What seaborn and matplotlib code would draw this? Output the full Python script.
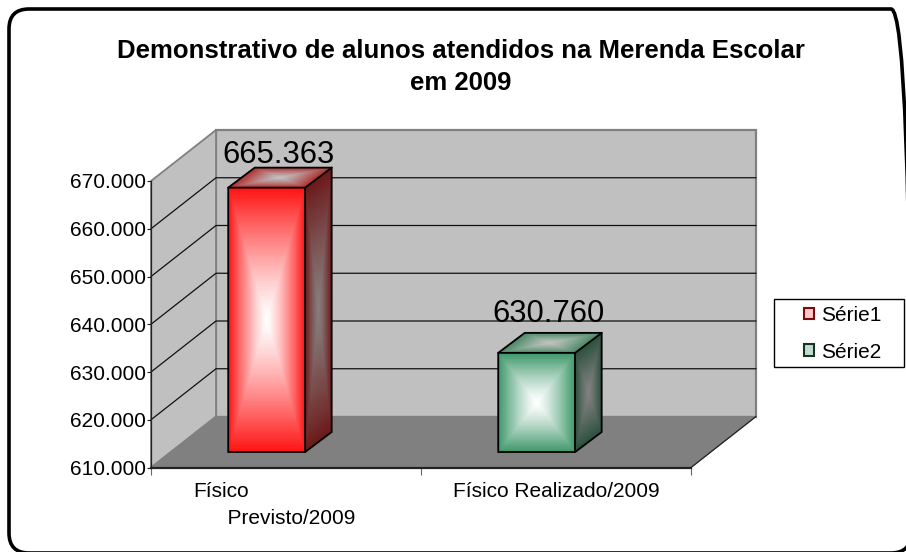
import numpy as np
import pandas as pd
import matplotlib
matplotlib.use("Agg")
import matplotlib.pyplot as plt
import seaborn as sns
from matplotlib.patches import FancyBboxPatch, Polygon, Rectangle
from matplotlib.transforms import IdentityTransform, ScaledTranslation

# data
categories = ["Físico Previsto/2009", "Físico Realizado/2009"]
tick_labels = ["Físico\n      Previsto/2009", "Físico Realizado/2009"]
series = ["Série1", "Série2"]
values = [665363, 630760]
y_ticks = [610000, 620000, 630000, 640000, 650000, 660000, 670000]

W, H = 906, 552
df = pd.DataFrame({"cat": categories, "val": values, "serie": series})

sns.set_theme(style="white")
plt.rcParams["font.family"] = ["Liberation Sans", "DejaVu Sans"]
FS = 15


def fmt(v):
    return f"{v:,}".replace(",", ".")


def shade(ax, p0, p1, p3, edge, mid, n=120, zorder=3, power=1.25):
    # fill a parallelogram with a box gradient, edge colour -> mid colour at the centre
    u = np.linspace(0, 1, n + 1)
    uu, vv = np.meshgrid(u, u)
    p0, p1, p3 = np.array(p0), np.array(p1), np.array(p3)
    X = p0[0] + uu * (p1[0] - p0[0]) + vv * (p3[0] - p0[0])
    Y = p0[1] + uu * (p1[1] - p0[1]) + vv * (p3[1] - p0[1])
    c = (u[:-1] + u[1:]) / 2
    cu, cv = np.meshgrid(c, c)
    d = np.maximum(np.abs(2 * cu - 1), np.abs(2 * cv - 1))[..., None] ** power
    rgb = np.array(mid) + (np.array(edge) - np.array(mid)) * d
    ax.pcolormesh(X, Y, rgb / 255, transform=IdentityTransform(), shading="flat",
                  zorder=zorder, clip_on=False, antialiased=False)


fig = plt.figure(figsize=(W / 100, H / 100), dpi=100, facecolor="white")

# front plane of the chart: 151..691 px across, 181..467.5 px down
x0, x1, ytop, ybot = 151, 691, 181, 467.5
ax = fig.add_axes([x0 / W, (H - ybot) / H, (x1 - x0) / W, (ybot - ytop) / H])
ax.set_xlim(-0.5, 1.5)
ax.set_ylim(y_ticks[0], y_ticks[-1])
ax.patch.set_visible(False)
for s in ["top", "right"]:
    ax.spines[s].set_visible(False)
ax.spines["left"].set_linewidth(0.9)
ax.spines["left"].set_color("#222222")
ax.spines["bottom"].set_linewidth(1.6)
ax.spines["bottom"].set_color("#222222")
ax.set_yticks(y_ticks)
ax.set_yticklabels([fmt(v) for v in y_ticks], fontsize=FS, color="black")
ax.set_xticks([0, 1])
ax.set_xticklabels(tick_labels, fontsize=FS, color="black", linespacing=1.5)
ax.set_xticks([-0.5, 0.5, 1.5], minor=True)
ax.tick_params(axis="x", which="major", length=0, pad=10.5)
ax.tick_params(axis="x", which="minor", length=5, width=0.8, color="#666666", bottom=True)
ax.tick_params(axis="y", length=3, width=0.8, color="#222222", left=True, pad=0.6)
lab0 = ax.get_xticklabels()[0]
lab0.set_ha("center")
lab0.set_multialignment("left")
lab0.set_transform(lab0.get_transform() + ScaledTranslation(-12 / 100, 0, fig.dpi_scale_trans))

# walls and floor of the fake 3D box
dx, dy = 65, 51
pb = ax.transData.transform([(-0.5, y_ticks[0]), (1.5, y_ticks[0]), (-0.5, y_ticks[-1])])
(fx, fy), (rx, _), (_, ty) = pb
kw = dict(transform=IdentityTransform(), clip_on=False)
ax.add_patch(Polygon([(fx + dx, fy + dy), (rx + dx, fy + dy), (rx + dx, ty + dy), (fx + dx, ty + dy)],
                     fc="#c0c0c0", ec="#808080", lw=1.6, zorder=0, **kw))
ax.add_patch(Polygon([(fx, fy), (fx + dx, fy + dy), (fx + dx, ty + dy), (fx, ty)],
                     fc="#c0c0c0", ec="#808080", lw=1.3, zorder=0.1, **kw))
ax.add_patch(Polygon([(fx, fy), (fx + dx, fy + dy), (rx + dx, fy + dy), (rx, fy)],
                     fc="#808080", ec="#808080", lw=0.8, zorder=0.2, **kw))
ax.plot([rx, rx + dx], [fy, fy + dy], color="#222222", lw=0.9, zorder=0.3, **kw)
for v in y_ticks[1:-1]:
    py = ax.transData.transform((0, v))[1]
    ax.plot([fx, fx + dx, rx + dx], [py, py + dy, py + dy], color="#111111", lw=0.9, zorder=0.3, **kw)

# bars sit part way into the box, so their axes is shifted from the front plane
bx, by = -19.3, 15.5
bar_ax = fig.add_axes([(x0 + bx) / W, (H - ybot + by) / H, (x1 - x0) / W, (ybot - ytop) / H])
bar_ax.set_zorder(-1)
sns.barplot(data=df, x="cat", y="val", hue="serie", dodge=False, width=0.285,
            palette=["#ff1414", "#3c9669"], ax=bar_ax)
bar_ax.set_xlim(-0.5, 1.5)
bar_ax.set_ylim(y_ticks[0], y_ticks[-1])
bar_ax.axis("off")

looks = [
    dict(front=((255, 18, 18), (255, 255, 255)), side=((108, 24, 24), (135, 125, 125)),
         top=((175, 45, 45), (192, 192, 192)), hand=("#ffc8c8", "#7a0c0c")),
    dict(front=((60, 150, 105), (255, 255, 255)), side=((42, 78, 60), (128, 128, 128)),
         top=((70, 135, 100), (190, 195, 190)), hand=("#c4dccf", "#123524")),
]
bw, bh = 26.5, 20
bars = [p for p in bar_ax.patches if p.get_width() > 0]
for bar, look, val in zip(bars, looks, values):
    left = bar.get_x()
    right = left + bar.get_width()
    (lx, by0) = bar_ax.transData.transform((left, y_ticks[0]))
    (rx2, by1) = bar_ax.transData.transform((right, val))
    shade(ax, (lx, by0), (rx2, by0), (lx, by1), *look["front"], zorder=3)
    shade(ax, (rx2, by0), (rx2 + bw, by0 + bh), (rx2, by1), *look["side"], zorder=3)
    shade(ax, (lx, by1), (rx2, by1), (lx + bw, by1 + bh), *look["top"], zorder=3)
    out = [(lx, by0), (rx2, by0), (rx2 + bw, by0 + bh), (rx2 + bw, by1 + bh), (lx + bw, by1 + bh),
           (lx, by1)]
    ax.add_patch(Polygon(out, fc="none", ec="black", lw=1.3, zorder=4, **kw))
    ax.plot([lx, rx2, rx2 + bw], [by1, by1, by1 + bh], color="black", lw=1.3, zorder=4, **kw)
    ax.plot([rx2, rx2], [by0, by1], color="black", lw=1.3, zorder=4, **kw)
ax.set_xlim(-0.5, 1.5)
ax.set_ylim(y_ticks[0], y_ticks[-1])

# value labels
label_off = [(-8, 40), (-8, 46.7)]
for i, val in enumerate(values):
    ax.annotate(fmt(val), xy=(i, val), xytext=label_off[i], textcoords="offset pixels",
                ha="center", va="baseline", fontsize=22.3, color="black", zorder=5,
                annotation_clip=False)

# legend: frame drawn apart because the entries sit off-centre in it
fig.add_artist(Rectangle((774, H - 367), 130, 68, fc="white", ec="black", lw=1.0,
                         transform=IdentityTransform(), zorder=-2))
handles, labels = bar_ax.get_legend_handles_labels()
for h, look in zip(handles, looks):
    h.set_facecolor(look["hand"][0])
    h.set_edgecolor(look["hand"][1])
    h.set_linewidth(1.5)
bar_ax.get_legend().remove()
leg = ax.legend(handles, labels, loc="upper left", bbox_to_anchor=(804 / W, (H - 306) / H),
                bbox_transform=fig.transFigure, frameon=False, fontsize=FS,
                handlelength=0.48, handleheight=0.48, handletextpad=0.33, labelspacing=0.85,
                borderaxespad=0, borderpad=0)
leg.set_zorder(10)
for t in leg.get_texts():
    t.set_color("black")

# title and outer rounded border
fig.text(461 / W, (H - 58.5) / H, "Demonstrativo de alunos atendidos na Merenda Escolar",
         ha="center", va="baseline", fontsize=18.5, fontweight="bold", color="black")
fig.text(461 / W, (H - 90.5) / H, "em 2009", ha="center", va="baseline", fontsize=18.5,
         fontweight="bold", color="black")
fig.add_artist(FancyBboxPatch((9, -1), 902, 544, boxstyle="round,pad=0,rounding_size=20",
                              fc="none", ec="black", lw=2.6, transform=IdentityTransform(),
                              clip_on=False))

fig.savefig("out.png", dpi=100, facecolor="white")
